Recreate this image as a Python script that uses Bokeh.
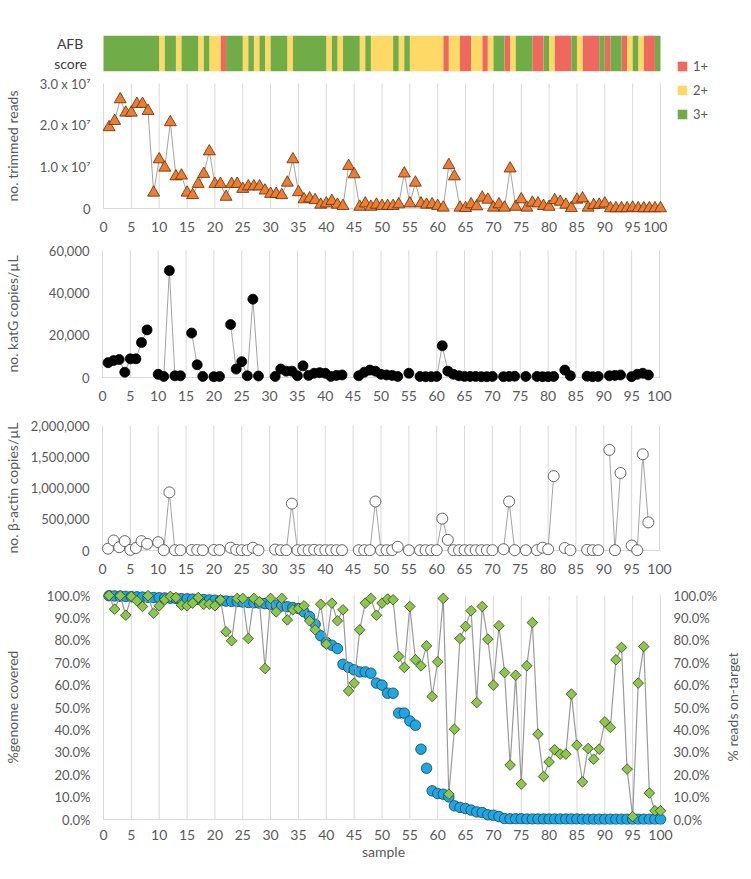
import math
from bokeh.plotting import figure
from bokeh.models import (Range1d, LinearAxis, FixedTicker, Legend,
                          LegendItem, NumeralTickFormatter)
from bokeh.layouts import column, row
from bokeh.embed import file_html
from bokeh.resources import INLINE

nan = float("nan")

# ---------------- data ----------------
samples = list(range(1, 101))

afb_score = [3, 3, 3, 3, 3, 3, 3, 3, 3, 3,
             2, 3, 3, 2, 3, 3, 3, 2, 3, 2,
             2, 1, 3, 3, 3, 2, 3, 2, 3, 2,
             3, 3, 3, 2, 3, 3, 3, 3, 3, 3,
             2, 3, 2, 3, 3, 3, 2, 3, 2, 2,
             2, 2, 3, 2, 3, 2, 2, 2, 2, 2,
             2, 1, 2, 2, 1, 1, 2, 2, 1, 2,
             3, 3, 1, 2, 3, 3, 3, 1, 1, 3,
             2, 1, 1, 1, 3, 2, 1, 1, 1, 3,
             1, 3, 3, 1, 2, 3, 2, 1, 1, 3]
afb_names = {1: "1+", 2: "2+", 3: "3+"}

trimmed_reads_m = [19.5, 21.0, 26.2, 23.0, 23.0, 25.1, 25.1, 23.4, 3.8, 11.8,
                   9.8, 20.7, 7.7, 7.9, 3.8, 3.2, 5.9, 8.3, 13.7, 5.9,
                   5.9, 2.8, 5.9, 5.9, 4.7, 5.3, 5.3, 5.3, 4.3, 3.5,
                   3.5, 3.2, 6.2, 11.8, 3.9, 2.2, 2.4, 2.0, 0.9, 1.2,
                   1.8, 0.9, 0.6, 10.2, 8.2, 0.4, 1.2, 0.4, 0.9, 0.6,
                   0.6, 0.6, 1.0, 8.4, 1.2, 6.2, 1.2, 0.9, 1.0, 0.6,
                   0.2, 10.4, 7.7, 0.2, 0.1, 1.0, 0.5, 2.6, 2.1, 0.2,
                   1.0, 0.2, 9.6, 0.4, 2.2, 0.2, 1.4, 1.2, 0.6, 0.4,
                   2.0, 1.6, 0.9, 0.1, 2.1, 2.4, 0.2, 0.8, 0.9, 1.2,
                   0.05, 0.05, 0.05, 0.05, 0.2, 0.05, 0.05, 0.05, 0.05, 0.05]

katg = [7000, 8000, 8500, 2500, 8800, 8800, 16500, 22500, nan, 1500,
        500, 50500, 800, 800, nan, 21000, 6000, 500, nan, 400,
        500, nan, 25000, 4000, 7500, 800, 37000, 700, nan, nan,
        500, 4000, 3000, 3000, 800, 5500, 1000, 2000, 2300, 2000,
        500, 1000, 1200, nan, nan, 800, 2500, 3500, 3000, 1500,
        1200, 1000, 500, nan, 2000, nan, 500, 400, 400, 500,
        15000, 3000, 1500, 800, 500, 500, 500, 400, 400, 500,
        nan, 400, 500, 600, nan, 500, nan, 500, 400, 400,
        500, nan, 3500, 800, nan, nan, 600, 400, 500, nan,
        800, 1000, 1200, nan, 400, 1500, 2000, 1200, nan, nan]

bactin = [30000, 160000, 53000, 150000, 10000, 40000, 150000, 107000, nan, 133000,
          5000, 930000, 5000, 5000, nan, 8000, 8000, 5000, nan, 8000,
          8000, nan, 45000, 10000, 5000, 5000, 45000, 5000, nan, nan,
          15000, 5000, 5000, 750000, 5000, 5000, 5000, 10000, 5000, 5000,
          5000, 5000, 5000, nan, nan, 5000, 5000, 5000, 784000, 5000,
          5000, 5000, 60000, nan, 5000, nan, 5000, 5000, 5000, 5000,
          510000, 170000, 5000, 5000, 5000, 5000, 5000, 5000, 5000, 5000,
          nan, 20000, 784000, 5000, nan, 5000, nan, 5000, 45000, 20000,
          1190000, nan, 40000, 5000, nan, nan, 10000, 5000, 5000, nan,
          1610000, 5000, 1240000, nan, 80000, 5000, 1540000, 450000, nan, nan]

genome_covered = [99.9, 99.8, 99.7, 99.6, 99.5, 99.4, 99.3, 99.2, 99.1, 99.0,
                  98.9, 98.8, 98.7, 98.6, 98.5, 98.4, 98.3, 98.2, 98.0, 97.9,
                  97.7, 97.5, 97.4, 97.3, 97.1, 96.9, 96.8, 96.6, 96.4, 96.0,
                  95.7, 95.3, 95.0, 94.6, 94.2, 92.7, 90.6, 87.2, 82.0, 79.0,
                  77.8, 76.3, 69.3, 67.9, 66.8, 65.9, 65.9, 65.3, 60.9, 60.0,
                  56.4, 56.4, 47.5, 47.5, 44.0, 42.1, 31.4, 22.9, 12.8, 11.6,
                  11.3, 10.1, 6.1, 5.4, 4.9, 4.2, 3.4, 3.1, 2.1, 1.9,
                  1.3, 0.4, 0.3, 0.3, 0.3, 0.2, 0.2, 0.2, 0.2, 0.2,
                  0.2, 0.2, 0.2, 0.2, 0.2, 0.1, 0.1, 0.1, 0.1, 0.1,
                  0.1, 0.1, 0.1, 0.1, 0.1, 0.1, 0.1, 0.1, 0.1, 0.1]

reads_on_target = [100.0, 93.9, 99.9, 91.2, 99.6, 97.6, 95.1, 99.9, 92.1, 95.4,
                   98.1, 99.6, 99.1, 95.7, 95.4, 96.6, 99.1, 96.1, 96.1, 95.4,
                   98.1, 83.8, 79.8, 98.7, 98.7, 80.8, 98.7, 97.2, 67.4, 98.7,
                   92.7, 98.7, 89.1, 93.6, 94.2, 95.4, 88.7, 84.7, 96.1, 78.3,
                   96.6, 88.7, 93.6, 57.4, 60.9, 84.7, 96.6, 98.7, 91.2, 96.6,
                   98.4, 98.1, 72.8, 67.9, 95.1, 71.3, 68.6, 77.5, 54.9, 70.4,
                   98.7, 11.3, 40.3, 80.8, 86.2, 93.2, 52.2, 95.1, 80.5, 60.0,
                   86.5, 65.6, 24.3, 64.4, 15.8, 68.6, 87.9, 38.1, 19.2, 25.7,
                   31.1, 29.2, 29.2, 56.0, 33.2, 16.8, 31.7, 26.9, 31.4, 43.6,
                   41.1, 71.3, 76.8, 22.5, 1.3, 60.9, 77.2, 11.8, 3.9, 3.9]

x_ticks = list(range(0, 101, 5))
reads_ticks = [0, 10000000, 20000000, 30000000]
reads_tick_labels = ["0", "1.0 x 10\u2077", "2.0 x 10\u2077", "3.0 x 10\u2077"]
katg_ticks = [0, 20000, 40000, 60000]
bactin_ticks = [0, 500000, 1000000, 1500000, 2000000]
pct_ticks = list(range(0, 101, 10))

# ---------------- style / layout ----------------
FONT = "Lato"
TXT = "#595959"
GRID = "#d9d9d9"
LINE = "#8c8c8c"
AFB_COLORS = {1: "#F0675D", 2: "#FFD966", 3: "#70AD47"}
NB = "\u00a0"

PAGE = 8
FRAME_L = 106
FRAME_W = 568
BORDER_L = FRAME_L - PAGE
BORDER_R = 69
PPX = 5.57
X_START = -4 / PPX
X_END = X_START + FRAME_W / PPX


def make_range(vmax, y_top, y_zero, f_top, f_bot):
    ppu = (y_zero - y_top) / vmax
    return Range1d(-(f_bot - y_zero) / ppu, vmax + (y_top - f_top) / ppu), ppu


def style_axis(ax, size="13px", standoff=9):
    ax.axis_line_color = None
    ax.major_tick_line_color = None
    ax.minor_tick_line_color = None
    ax.major_tick_out = 0
    ax.major_tick_in = 0
    ax.major_label_standoff = standoff
    ax.major_label_text_font = FONT
    ax.major_label_text_font_size = size
    ax.major_label_text_color = TXT
    ax.axis_label_text_font = FONT
    ax.axis_label_text_font_size = "14px"
    ax.axis_label_text_font_style = "normal"
    ax.axis_label_text_color = TXT


def clean(p):
    p.outline_line_color = None
    p.grid.visible = False
    p.background_fill_color = "white"
    p.border_fill_color = "white"


def make_fig(fig_top, fig_bot, f_top, f_bot, yr, border_r=BORDER_R, x_standoff=7):
    p = figure(frame_width=FRAME_W, frame_height=f_bot - f_top,
               min_border_left=BORDER_L, min_border_right=border_r,
               min_border_top=f_top - fig_top, min_border_bottom=fig_bot - f_bot,
               x_range=Range1d(X_START, X_END), y_range=yr,
               output_backend="svg", toolbar_location=None, tools="")
    clean(p)
    xa = p.xaxis[0]
    xa.ticker = FixedTicker(ticks=x_ticks)
    style_axis(xa, "14px", x_standoff)
    style_axis(p.yaxis[0], "13px", 9)
    return p


def draw_grid(p, vmax):
    n = len(x_ticks)
    p.segment(x0=x_ticks, y0=[0] * n, x1=x_ticks, y1=[vmax] * n,
              line_color=GRID, line_width=1)
    p.segment(x0=[x_ticks[0]], y0=[0], x1=[x_ticks[-1]], y1=[0],
              line_color=GRID, line_width=1)


# ---------- AFB score strip ----------
pA = figure(frame_width=FRAME_W, frame_height=79 - 43,
            min_border_left=BORDER_L, min_border_right=0,
            min_border_top=43 - 8, min_border_bottom=3,
            x_range=Range1d(X_START, X_END), y_range=Range1d(0, 1),
            x_axis_location=None, output_backend="svg",
            toolbar_location=None, tools="")
clean(pA)
yaA = pA.yaxis[0]
style_axis(yaA, "14px", 9)
yaA.major_label_text_color = "#404040"
yaA.ticker = FixedTicker(ticks=[0.5])
yaA.major_label_overrides = {0.5: "AFB" + NB * 2 + "\nscore" + NB}

runs = {1: [], 2: [], 3: []}
start = 0
for i in range(1, len(samples) + 1):
    if i == len(samples) or afb_score[i] != afb_score[start]:
        runs[afb_score[start]].append((samples[start] - 1, samples[i - 1]))
        start = i
for score in (1, 2, 3):
    lefts = [a for a, b in runs[score]]
    rights = [b for a, b in runs[score]]
    pA.quad(left=lefts, right=rights, bottom=[0] * len(lefts), top=[1] * len(lefts),
            fill_color=AFB_COLORS[score], line_color=None)

# ---------- trimmed reads ----------
trimmed_reads = [v * 1e6 for v in trimmed_reads_m]
yr1, ppu1 = make_range(reads_ticks[-1], 91, 216, 85, 222)
p1 = make_fig(82, 248, 85, 222, yr1, border_r=0)
ya1 = p1.yaxis[0]
ya1.ticker = FixedTicker(ticks=reads_ticks)
ya1.major_label_overrides = dict(zip(reads_ticks, reads_tick_labels))
ya1.axis_label = "no. trimmed reads"
ya1.axis_label_standoff = 16
draw_grid(p1, reads_ticks[-1])
p1.line(samples, trimmed_reads, line_color=LINE, line_width=0.8)
p1.scatter(samples, trimmed_reads, marker="triangle", size=12,
           fill_color="#ED7D31", line_color="#5e2d0c", line_width=0.8)

# ---------- legend of the AFB strip (swatches kept outside the visible range) ----------
LEG_W = 69
pL = figure(frame_width=LEG_W, frame_height=248 - 8, min_border=0,
            x_range=Range1d(0, 1), y_range=Range1d(0, 1),
            x_axis_location=None, y_axis_location=None,
            output_backend="svg", toolbar_location=None, tools="")
clean(pL)
legend_items = []
for score in (1, 2, 3):
    r = pL.quad(left=[2], right=[3], bottom=[2], top=[3],
                fill_color=AFB_COLORS[score], line_color=None)
    legend_items.append(LegendItem(label=afb_names[score], renderers=[r]))
legend = Legend(items=legend_items, location=(683 - (FRAME_L + FRAME_W), 248 - 130),
                orientation="vertical", glyph_width=12, glyph_height=12,
                label_height=16, spacing=8, padding=0, margin=0,
                label_standoff=5, label_text_font=FONT, label_text_font_size="13px",
                label_text_color=TXT, border_line_color=None,
                background_fill_alpha=0)
pL.add_layout(legend)

# ---------- katG ----------
yr2, ppu2 = make_range(katg_ticks[-1], 258, 385, 252, 391)
p2 = make_fig(248, 423, 252, 391, yr2)
ya2 = p2.yaxis[0]
ya2.ticker = FixedTicker(ticks=katg_ticks)
ya2.formatter = NumeralTickFormatter(format="0,0")
ya2.axis_label = "no. katG copies/\u00b5L"
ya2.axis_label_standoff = 25
draw_grid(p2, katg_ticks[-1])
p2.line(samples, katg, line_color=LINE, line_width=0.8)
p2.scatter(samples, katg, marker="circle", size=10, fill_color="black",
           line_color="black", line_width=0.8)

# ---------- beta-actin ----------
yr3, ppu3 = make_range(bactin_ticks[-1], 433, 558, 427, 564)
p3 = make_fig(423, 593, 427, 564, yr3)
ya3 = p3.yaxis[0]
ya3.ticker = FixedTicker(ticks=bactin_ticks)
ya3.formatter = NumeralTickFormatter(format="0,0")
ya3.axis_label = "no. \u03b2-actin copies/\u00b5L"
ya3.axis_label_standoff = 7
draw_grid(p3, bactin_ticks[-1])
p3.line(samples, bactin, line_color=LINE, line_width=0.8)
p3.scatter(samples, bactin, marker="circle", size=11, fill_color="white",
           line_color="#404040", line_width=0.8)

# ---------- genome covered / reads on-target ----------
yr4, ppu4 = make_range(pct_ticks[-1], 603, 827, 597, 832)
p4 = make_fig(593, 871, 597, 832, yr4, border_r=20, x_standoff=5)
pct_labels = {t: f"{t:.1f}%" for t in pct_ticks}
ya4 = p4.yaxis[0]
ya4.ticker = FixedTicker(ticks=pct_ticks)
ya4.major_label_overrides = pct_labels
ya4.axis_label = "%genome covered"
ya4.axis_label_standoff = 23
p4.xaxis[0].axis_label = "sample"
p4.xaxis[0].axis_label_standoff = 0
right_ax = LinearAxis(ticker=FixedTicker(ticks=pct_ticks), major_label_overrides=pct_labels)
style_axis(right_ax, "13px", 6)
p4.add_layout(right_ax, "right")
draw_grid(p4, pct_ticks[-1])
p4.scatter(samples, genome_covered, marker="circle", size=10.5, fill_color="#1DA8E1",
           line_color="#1c3b5a", line_width=0.8)
p4.line(samples, reads_on_target, line_color="#9a9a9a", line_width=1.2)
p4.scatter(samples, reads_on_target, marker="square", angle=math.pi / 4, size=7.5,
           fill_color="#8DC64E", line_color="#2c4712", line_width=0.8)

# secondary-axis title, read bottom-to-top
pT = figure(frame_width=1, frame_height=832 - 597,
            min_border_left=17, min_border_right=0,
            min_border_top=597 - 593, min_border_bottom=871 - 832,
            y_range=Range1d(0, 1), x_range=Range1d(0, 1),
            x_axis_location=None, y_axis_location="left",
            output_backend="svg", toolbar_location=None, tools="")
clean(pT)
yaT = pT.yaxis[0]
style_axis(yaT, "13px", 0)
yaT.ticker = FixedTicker(ticks=[])
yaT.axis_label = "% reads on-target"
yaT.axis_label_standoff = 0

layout = column(row(column(pA, p1), pL), p2, p3, row(p4, pT))
open("out.html", "w").write(file_html(layout, INLINE))
